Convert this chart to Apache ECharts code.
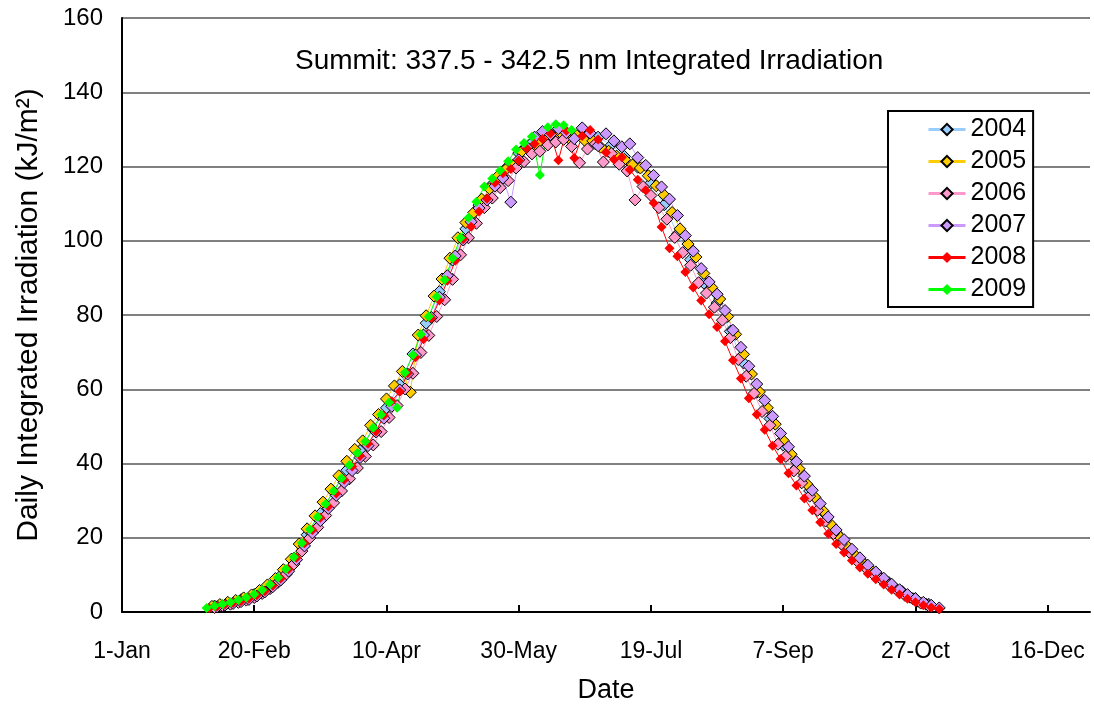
<!DOCTYPE html>
<html>
<head>
<meta charset="utf-8">
<script src="https://cdn.jsdelivr.net/npm/echarts@6/dist/echarts.min.js"></script>
<style>
html,body{margin:0;padding:0;background:#fff;}
#chart{width:1094px;height:706px;}
</style>
</head>
<body>
<div id="chart"></div>
<script>
// day of year (0 = 1-Jan), daily integrated irradiation kJ/m2
var tickLabels = ['1-Jan','20-Feb','10-Apr','30-May','19-Jul','7-Sep','27-Oct','16-Dec'];
var years = ['2004','2005','2006','2007','2008','2009'];
var colors = ['#99CCFF','#FFCC00','#FF99CC','#CC99FF','#FF0000','#00FF00'];

var y2004 = [[35,1.6],[40,2.4],[45,3.3],[50,4.7],[55,6.8],[60,9.8],[65,14.5],[70,20.8],[75,26.5],[80,32.4],
  [85,38.2],[90,43.5],[95,49.2],[100,55],[105,61.2],[110,69.5],[115,77.8],[120,86.3],[125,94.8],[130,103.2],
  [135,109.6],[140,115.2],[145,119.4],[150,123.6],[155,126.4],[160,127.5],[165,129.8],[170,128.4],[175,129.6],[180,127.9],
  [185,125.8],[190,122.7],[195,119.8],[200,115.6],[205,109.7],[210,101.8],[215,94.9],[220,88.6],[225,83.2],[230,75.6],
  [235,67.1],[240,59.2],[245,52.1],[250,45.0],[255,38.8],[260,32.6],[265,27.0],[270,21.4],[275,17.1],[280,13.5],
  [285,10.6],[290,7.9],[295,5.5],[300,3.6],[305,2.1]];

var y2005 = [[34,1.5],[37,2.0],[40,2.6],[43,3.1],[46,3.8],[49,4.6],[52,5.8],[55,7.3],[58,9.0],[61,11.4],
  [64,14.2],[67,18.3],[70,22.4],[73,25.9],[76,29.6],[79,33.1],[82,36.7],[85,40.6],[88,43.8],[91,46.1],
  [94,50.3],[97,53.2],[100,57.4],[103,60.9],[106,64.8],[109,59.2],[112,74.6],[115,79.8],[118,85.1],[121,89.7],
  [124,95.3],[127,100.8],[130,104.9],[133,107.6],[136,111.2],[139,114.0],[142,117.3],[145,119.1],[148,120.4],[151,124.0],
  [154,124.6],[157,126.2],[160,127.8],[163,128.1],[166,129.0],[169,127.6],[172,128.3],[175,127.0],[178,126.9],[181,125.2],
  [184,124.1],[187,122.8],[190,121.9],[193,120.4],[196,119.6],[199,117.5],[202,114.8],[205,112.3],[208,107.6],[211,103.2],
  [214,99.1],[217,95.6],[220,91.2],[223,87.4],[226,84.3],[229,79.6],[232,74.8],[235,69.4],[238,64.1],[241,59.3],
  [244,55.0],[247,50.6],[250,46.2],[253,42.5],[256,38.6],[259,34.4],[262,30.9],[265,27.3],[268,23.6],[271,20.5],
  [274,17.9],[277,15.4],[280,13.2],[283,11.4],[286,9.8],[289,8.2],[292,6.6],[295,5.3],[298,4.0],[301,2.9],[304,2.1]];

var y2006 = [[35,1.2],[38,1.7],[41,2.1],[44,2.6],[47,3.2],[50,3.9],[53,5.0],[56,6.3],[59,8.0],[62,10.1],
  [65,12.9],[68,16.4],[71,19.9],[74,22.8],[77,26.0],[80,29.4],[83,32.6],[86,35.9],[89,38.8],[92,41.9],
  [95,45.0],[98,48.6],[101,52.4],[104,55.6],[107,60.1],[110,64.3],[113,69.9],[116,74.5],[119,79.6],[122,84.1],
  [125,89.6],[128,96.2],[131,100.8],[134,104.7],[137,108.9],[140,111.5],[143,114.3],[146,116.2],[149,119.6],[152,121.3],
  [155,123.4],[158,124.1],[161,125.8],[164,126.6],[167,127.3],[170,125.4],[173,121.0],[176,124.7],[179,126.1],[182,121.2],
  [185,123.5],[188,120.6],[191,118.8],[194,111.0],[197,114.6],[200,112.2],[203,108.9],[206,105.8],[209,100.9],[212,96.8],
  [215,93.4],[218,88.7],[221,85.9],[224,82.1],[227,78.6],[230,73.9],[233,68.0],[236,63.5],[239,58.9],[242,54.0],
  [245,50.3],[248,45.2],[251,41.9],[254,38.0],[257,34.8],[260,31.2],[263,27.4],[266,24.5],[269,21.1],[272,18.3],
  [275,16.1],[278,13.7],[281,12.0],[284,10.2],[287,8.9],[290,7.2],[293,5.9],[296,4.5],[299,3.6],[302,2.4],[305,1.7]];

var y2007 = [[36,1.4],[39,1.9],[42,2.3],[45,2.8],[48,3.4],[51,4.3],[54,5.4],[57,6.8],[60,8.6],[63,11.0],
  [66,14.1],[69,17.8],[72,21.3],[75,24.6],[78,27.9],[81,31.4],[84,34.9],[87,38.1],[90,41.6],[93,44.8],
  [96,48.5],[99,52.2],[102,55.4],[105,59.8],[108,64.1],[111,69.2],[114,74.6],[117,79.3],[120,84.8],[123,90.6],
  [126,95.9],[129,100.2],[132,105.1],[135,108.8],[138,111.0],[141,114.7],[144,116.9],[147,110.4],[150,121.8],[153,125.2],
  [156,127.9],[159,129.4],[162,128.6],[165,130.2],[168,129.1],[171,127.5],[174,130.4],[177,129.0],[180,125.6],[183,128.8],
  [186,126.9],[189,125.3],[192,126.1],[195,122.4],[198,120.3],[201,117.6],[204,114.5],[207,111.2],[210,106.8],[213,101.4],
  [216,97.2],[219,92.5],[222,88.9],[225,85.6],[228,81.2],[231,75.9],[234,71.3],[237,66.2],[240,61.4],[243,57.0],
  [246,52.7],[249,48.1],[252,44.5],[255,40.5],[258,36.6],[261,32.8],[264,29.2],[267,25.6],[270,22.1],[273,19.5],
  [276,16.9],[279,14.6],[282,12.6],[285,10.8],[288,9.1],[291,7.5],[294,6.0],[297,4.7],[300,3.6],[303,2.6],[306,1.8],[309,1.1]];

var y2008 = [[33,1.0],[36,1.5],[39,2.0],[42,2.4],[45,2.9],[48,3.6],[51,4.5],[54,5.6],[57,7.1],[60,9.0],
  [63,11.5],[66,14.6],[69,18.5],[72,22.1],[75,25.4],[78,28.4],[81,31.9],[84,35.6],[87,39.2],[90,42.0],
  [93,45.3],[96,48.6],[99,52.9],[102,56.8],[105,59.4],[108,64.3],[111,68.6],[114,73.5],[117,79.1],[120,83.9],
  [123,89.2],[126,94.6],[129,100.4],[132,103.8],[135,107.9],[138,111.3],[141,115.6],[144,118.2],[147,119.3],[150,121.6],
  [153,124.9],[156,126.1],[159,127.4],[162,128.9],[165,121.7],[168,129.6],[171,122.3],[174,128.2],[177,129.8],[180,127.3],
  [183,123.8],[186,121.9],[189,122.5],[192,119.1],[195,116.4],[198,113.6],[201,110.2],[204,103.7],[207,98.0],[210,95.8],
  [213,91.6],[216,87.4],[219,83.9],[222,80.2],[225,76.8],[228,72.9],[231,67.8],[234,62.9],[237,57.6],[240,53.2],
  [243,49.1],[246,44.8],[249,41.2],[252,37.4],[255,34.1],[258,30.6],[261,27.4],[264,24.2],[267,21.1],[270,18.3],
  [273,16.0],[276,13.9],[279,12.0],[282,10.3],[285,8.8],[288,7.4],[291,6.0],[294,4.7],[297,3.6],[300,2.6],
  [303,1.8],[306,1.2],[309,0.8]];

var y2009 = [[32,1.1],[35,1.6],[38,2.1],[41,2.6],[44,3.2],[47,3.9],[50,4.8],[53,5.9],[56,7.4],[59,9.3],
  [62,11.6],[65,14.8],[68,18.6],[71,22.3],[74,25.6],[77,29.1],[80,32.6],[83,36.0],[86,39.6],[89,42.8],
  [92,45.9],[95,49.6],[98,53.1],[101,56.4],[104,55.0],[107,64.5],[110,69.2],[113,74.8],[116,79.6],[119,84.9],
  [122,89.5],[125,95.3],[128,100.8],[131,106.2],[134,110.5],[137,114.6],[140,116.8],[143,118.9],[146,121.4],[149,124.6],
  [152,126.3],[155,128.1],[158,117.7],[161,130.6],[164,131.4],[167,131.1],[170,129.8]];

var allData = [y2004, y2005, y2006, y2007, y2008, y2009];

var font = '"Liberation Sans", Arial, sans-serif';

function makeSeries(i) {
  var bordered = i < 4;
  return {
    name: years[i],
    type: 'line',
    data: allData[i],
    symbol: 'diamond',
    symbolSize: bordered ? 12 : 10,
    showAllSymbol: true,
    lineStyle: { color: colors[i], width: 1 },
    itemStyle: {
      color: colors[i],
      borderColor: bordered ? '#000' : colors[i],
      borderWidth: bordered ? 1 : 0
    },
    emphasis: { disabled: true }
  };
}

var series = [];
for (var i = 0; i < years.length; i++) series.push(makeSeries(i));

var chart = echarts.init(document.getElementById('chart'), null, { renderer: 'canvas' });
chart.setOption({
  animation: false,
  backgroundColor: '#fff',
  textStyle: { fontFamily: font, color: '#000' },
  title: {
    text: 'Summit: 337.5 - 342.5 nm Integrated Irradiation',
    left: 290,
    top: 42,
    textStyle: { fontFamily: font, fontSize: 28, fontWeight: 'normal', color: '#000' }
  },
  legend: {
    orient: 'vertical',
    left: 888,
    top: 111,
    padding: [6, 7, 5, 39],
    itemGap: 7,
    itemWidth: 37,
    itemHeight: 14,
    borderColor: '#000',
    borderWidth: 2,
    backgroundColor: '#fff',
    lineStyle: { width: 3 },
    textStyle: { fontFamily: font, fontSize: 25, color: '#000' },
    data: years
  },
  grid: { left: 122, right: 4, top: 18, bottom: 94, containLabel: false, outerBoundsMode: 'none' },
  xAxis: {
    type: 'value',
    min: 0,
    max: 366,
    interval: 50,
    name: 'Date',
    nameLocation: 'middle',
    nameGap: 65,
    nameTextStyle: { fontFamily: font, fontSize: 27, color: '#000' },
    axisLine: { lineStyle: { color: '#000', width: 2 } },
    axisTick: { inside: true, length: 7, lineStyle: { color: '#000', width: 2 } },
    axisLabel: {
      fontFamily: font, fontSize: 23, color: '#000', margin: 28,
      showMaxLabel: false,
      formatter: function (v) { return v % 50 === 0 ? tickLabels[v / 50] : ''; }
    },
    splitLine: { show: false }
  },
  yAxis: {
    type: 'value',
    min: 0,
    max: 160,
    interval: 20,
    name: 'Daily Integrated Irradiation (kJ/m²)',
    nameLocation: 'middle',
    nameGap: 78,
    nameTextStyle: { fontFamily: font, fontSize: 30, color: '#000' },
    axisLine: { show: true, lineStyle: { color: '#000', width: 2 } },
    axisTick: { show: false },
    axisLabel: { fontFamily: font, fontSize: 24, color: '#000', margin: 19 },
    splitLine: { show: true, lineStyle: { color: '#808080', width: 2 } }
  },
  series: series
});
</script>
</body>
</html>
